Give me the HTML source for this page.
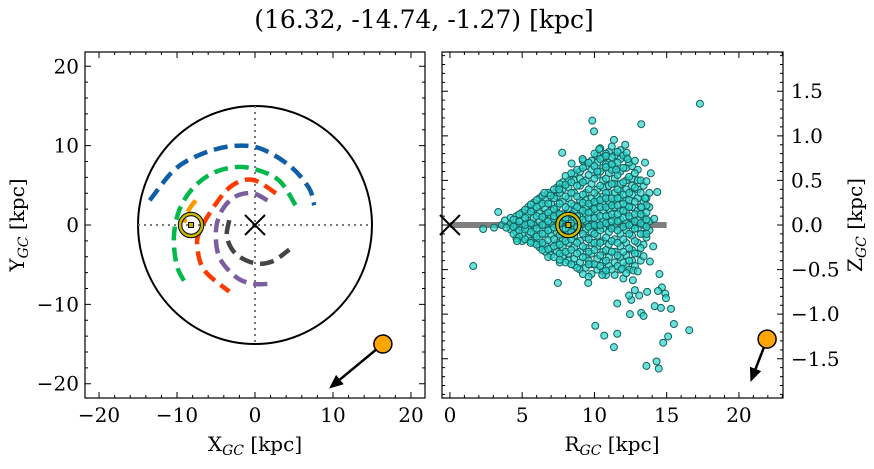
<!DOCTYPE html>
<html><head><meta charset="utf-8"><style>
body{margin:0;background:#fff}
svg text{font-family:"DejaVu Serif","Liberation Serif",serif;fill:#000}
</style></head><body>
<svg id="fig" width="874" height="464" viewBox="0 0 874 464" xmlns="http://www.w3.org/2000/svg">
<text x="424" y="28" font-size="25" text-anchor="middle">(16.32, -14.74, -1.27) [kpc]</text>
<g id="left"></g>
<g id="right"></g>
</svg>
<script>
// ---- data: left panel (X,Y in kpc) ----
const orbitBlue=[[-13.5,3.1],[-10.4,6.9],[-7.2,8.8],[-3.3,9.9],[0.5,9.7],[4.4,7.5],[6.9,4.7],[7.6,2.5]];
const orbitGreen=[[5.2,2.5],[3.1,5.6],[0.1,7.0],[-2.5,7.3],[-5.5,6.5],[-8.0,4.6],[-9.7,1.9],[-10.4,-1.5],[-10.0,-5.2],[-8.8,-7.5]];
const orbitRed=[[2.7,4.0],[-0.3,5.7],[-2.9,5.0],[-5.0,2.7],[-7.0,-0.6],[-7.4,-2.7],[-6.5,-5.7],[-3.3,-8.4]];
const orbitPurple=[[1.6,3.1],[-0.3,4.0],[-2.5,3.6],[-4.2,1.9],[-5.0,-0.6],[-4.6,-4.0],[-2.5,-6.5],[-0.3,-7.4],[2.1,-7.4]];
const orbitGray=[[-3.3,0.6],[-3.6,-1.5],[-2.5,-3.6],[-0.1,-4.8],[2.2,-4.6],[4.4,-3.1]];
const orbitOrange=[[-7.6,3.1],[-8.5,1.9],[-9.1,0.3]];
const sunXY=[-8.2,0];
const targetXY=[16.4,-15.0];
const arrowXY=[9.5,-20.6];
const diskRadius=15;
const xyTicks=[-20,-10,0,10,20];
// ---- data: right panel (R,Z in kpc) ----
const outliers=[[17.3,1.36],[9.85,1.17],[9.97,1.05],[13.24,1.13],[11.35,0.955],[12.13,0.9],[10.33,0.85],[7.77,0.81],[12.23,0.81],[10.8,0.775],[12.3,0.74],[9.18,0.74],[8.42,0.69],[13.5,0.70],[13.9,0.58],[14.35,0.37],[14.14,0.07],[13.6,-0.10],[14.07,-0.24],[13.84,-0.41],[14.5,-0.55],[14.67,-0.70],[14.4,-0.74],[14.9,-0.77],[13.65,-0.75],[14.95,-0.82],[14.17,-0.91],[14.6,-0.93],[15.3,-0.94],[13.1,-0.79],[12.55,-0.84],[12.8,-0.73],[12.4,-0.79],[11.58,-0.88],[12.46,-1.0],[13.24,-0.985],[13.4,-1.02],[15.5,-1.11],[16.56,-1.18],[15.1,-1.25],[14.76,-1.32],[10.06,-1.13],[10.68,-1.24],[11.58,-1.22],[11.35,-1.37],[13.6,-1.58],[14.3,-1.53],[14.45,-1.61],[12.66,-0.62],[7.47,-0.65],[9.57,-0.65],[1.61,-0.46],[3.34,0.146],[2.3,-0.045],[3.05,-0.03],[4.64,-0.18],[5.58,-0.2],[7.6,-0.39],[9.6,-0.44],[10.54,-0.56],[10.8,-0.51],[11.9,-0.49],[12.7,-0.51],[13.0,-0.52],[12.2,-0.54],[13.4,-0.35],[13.5,0.3],[13.25,0.2],[13.6,0.49],[6.53,0.36],[6.97,0.33],[7.56,0.40],[10.2,0.6],[10.8,0.65],[11.2,0.68],[11.5,0.62],[3.6,0.0],[3.9,-0.03],[3.8,0.05]];
const clusterR=[4.2,4.6,5.0,5.4,5.8,6.2,6.6,7.0,7.4,7.8,8.2,8.6,9.0,9.4,9.8,10.2,10.6,11.0,11.4,11.8,12.2,12.6,13.0,13.4,13.8];
const clusterZ=[
[0.02,-0.05,0.08],
[-0.08,0.0,0.1,-0.15],
[0.05,-0.1,0.14,-0.02,-0.18],
[0.12,-0.04,0.2,-0.14,0.03],
[-0.1,0.08,0.18,-0.2,0.0,0.25],
[0.04,-0.16,0.22,-0.06,0.13,-0.25,0.3],
[-0.1,0.06,0.18,-0.22,0.28,0.0,-0.3,0.12],
[0.02,-0.12,0.24,0.1,-0.26,0.35,-0.05,0.16,-0.34],
[-0.08,0.08,0.2,-0.2,0.32,0.0,-0.3,0.42,0.14],
[0.05,-0.15,0.26,-0.25,0.4,0.12,-0.05,-0.35,0.48],
[-0.1,0.18,0.3,-0.2,0.05,0.42,-0.32,0.5,-0.02,-0.4],
[0.08,-0.12,0.22,0.36,-0.25,0.5,-0.04,0.58,-0.38,0.15,-0.45],
[-0.06,0.1,0.28,-0.18,0.44,-0.3,0.6,0.02,-0.42,0.18,0.52,-0.5],
[0.04,-0.14,0.2,0.36,-0.26,0.5,-0.36,0.66,0.12,-0.05,-0.48,0.28],
[-0.08,0.14,0.3,-0.2,0.46,-0.32,0.62,0.0,0.72,-0.44,0.22,-0.55],
[0.06,-0.12,0.24,0.4,-0.24,0.56,-0.38,0.7,0.14,-0.02,-0.5,0.32,0.78],
[-0.04,0.16,0.32,-0.18,0.5,-0.3,0.64,0.04,0.76,-0.42,0.24,-0.52,0.42],
[0.1,-0.08,0.26,0.44,-0.22,0.58,-0.36,0.7,0.0,0.82,-0.46,0.36,0.18],
[-0.02,0.2,0.36,-0.16,0.52,-0.3,0.66,0.08,0.78,-0.42,0.28,-0.56,0.46],
[0.06,-0.1,0.3,0.46,-0.24,0.6,-0.36,0.74,0.16,-0.5,0.38,0.84],
[-0.06,0.14,0.28,-0.2,0.5,-0.34,0.64,0.02,0.76,-0.46,0.4,0.22],
[0.08,-0.12,0.34,0.52,-0.28,0.66,-0.4,0.2,0.0,0.44],
[-0.04,0.16,0.3,-0.2,0.5,-0.32,0.62,0.06,0.4],
[0.1,-0.1,0.26,0.44,-0.22,0.0],
[0.04,0.2,-0.06,0.36]];
const clusterR2=[4.4,4.8,5.2,5.6,6.0,6.4,6.8,7.2,7.6,8.0,8.4,8.8,9.2,9.6,10.0,10.4,10.8,11.2,11.6,12.0,12.4,12.8,13.2,13.6];
const clusterZ2=[
[-0.02,0.06,-0.1],
[0.04,-0.06,0.12,-0.13],
[-0.05,0.08,0.17,-0.16,0.0],
[0.02,-0.08,0.15,-0.18,0.23],
[-0.04,0.1,0.2,-0.13,-0.22,0.28],
[0.0,0.09,-0.1,0.24,-0.2,0.33,-0.28],
[0.04,-0.06,0.14,0.24,-0.17,0.36,-0.27,-0.36],
[-0.03,0.07,0.18,-0.16,0.3,-0.24,0.4,-0.36,0.1],
[0.02,-0.11,0.12,0.24,-0.22,0.36,-0.32,0.46,-0.42],
[-0.04,0.08,0.2,-0.18,0.32,-0.3,0.45,-0.42,0.55],
[0.02,-0.08,0.12,0.24,-0.16,0.36,-0.28,0.48,-0.44,0.58],
[-0.02,0.1,0.2,-0.2,0.32,-0.32,0.44,-0.48,0.62,0.05],
[0.06,-0.1,0.16,0.34,-0.24,0.48,-0.36,0.64,-0.55,0.25,0.72],
[-0.02,0.08,0.24,-0.16,0.4,-0.3,0.56,-0.4,0.7,0.14,-0.58],
[0.0,0.18,-0.1,0.36,-0.28,0.52,-0.44,0.66,0.08,-0.2,0.8,0.26],
[-0.06,0.1,0.28,-0.2,0.44,-0.34,0.6,-0.46,0.74,0.0,0.2,0.86],
[0.02,0.2,-0.14,0.36,-0.28,0.52,-0.4,0.68,0.1,0.8,-0.56,0.3],
[-0.04,0.12,0.3,-0.18,0.46,-0.3,0.62,-0.5,0.76,0.04,0.22,0.88],
[0.04,-0.06,0.22,0.4,-0.2,0.56,-0.34,0.7,-0.46,0.12,0.82,0.3],
[-0.02,0.16,0.34,-0.16,0.48,-0.3,0.64,-0.42,0.78,0.08,0.24,-0.6],
[0.0,0.2,-0.1,0.36,-0.26,0.54,-0.4,0.7,0.1,0.28,-0.5],
[-0.04,0.12,0.26,-0.18,0.42,-0.32,0.58,0.04,-0.46,0.72],
[0.02,0.2,-0.1,0.36,-0.26,0.5,0.12,-0.4],
[-0.02,0.14,0.3,-0.14,0.06,0.22]];
const sunRZ=[8.2,0];
const targetRZ=[21.95,-1.28];
const arrowRZ=[20.8,-1.76];
const diskLineR=[0,15];
const rTicks=[0,5,10,15,20];
const zTicks=[-1.5,-1.0,-0.5,0.0,0.5,1.0,1.5];
const zTickLabels=["\u22121.5","\u22121.0","\u22120.5","0.0","0.5","1.0","1.5"];

const NS="http://www.w3.org/2000/svg";
function mk(parent,tag,attrs){const e=document.createElementNS(NS,tag);for(const k in attrs)e.setAttribute(k,attrs[k]);parent.appendChild(e);return e;}
function lin(d0,d1,p0,p1){return v=>p0+(v-d0)*(p1-p0)/(d1-d0);}

// ---- left panel ----
const L=document.getElementById('left');
const LX0=85,LX1=425,LY0=52,LY1=398;
const lx=lin(-21.8,21.8,LX0,LX1), ly=lin(21.8,-21.8,LY0,LY1);
let e;
e=mk(L,'ellipse',{cx:lx(0),cy:ly(0),rx:lx(diskRadius)-lx(0),ry:ly(0)-ly(diskRadius),fill:'none',stroke:'#000','stroke-width':2});


e=mk(L,'line',{x1:lx(-diskRadius),x2:lx(diskRadius),y1:ly(0),y2:ly(0),stroke:'#777','stroke-width':2,'stroke-dasharray':'2 4'});


e=mk(L,'line',{x1:lx(0),x2:lx(0),y1:ly(diskRadius),y2:ly(-diskRadius),stroke:'#777','stroke-width':2,'stroke-dasharray':'2 4'});


const orbits=[[orbitBlue,'#0e5ea8','orbit-blue'],[orbitGreen,'#00b94a','orbit-green'],[orbitRed,'#ff3a00','orbit-red'],[orbitPurple,'#7b5ea0','orbit-purple'],[orbitGray,'#444444','orbit-gray'],[orbitOrange,'#ff9900','orbit-orange']];
function smooth(pts){let d='M'+pts[0][0]+' '+pts[0][1];for(let i=0;i<pts.length-1;i++){const p0=pts[Math.max(i-1,0)],p1=pts[i],p2=pts[i+1],p3=pts[Math.min(i+2,pts.length-1)];const c1=[p1[0]+(p2[0]-p0[0])/6,p1[1]+(p2[1]-p0[1])/6],c2=[p2[0]-(p3[0]-p1[0])/6,p2[1]-(p3[1]-p1[1])/6];d+=' C'+c1+' '+c2+' '+p2;}return d;}
orbits.forEach(o=>{const pts=o[0].map(p=>[lx(p[0]),ly(p[1])]);
 e=mk(L,'path',{d:smooth(pts),fill:'none',stroke:o[1],'stroke-width':4.5,'stroke-dasharray':'14 7'});
 
 });
function xmark(g,x,y,name){e=mk(g,'path',{d:`M${x-10} ${y-10}L${x+10} ${y+10}M${x-10} ${y+10}L${x+10} ${y-10}`,stroke:'#000','stroke-width':2,fill:'none'});
 
 }
function sun(g,x,y){const s=mk(g,'g',{});
 
 
 mk(s,'circle',{cx:x,cy:y,r:11,fill:'none',stroke:'#000','stroke-width':4.5});
 mk(s,'circle',{cx:x,cy:y,r:11,fill:'none',stroke:'#c8b800','stroke-width':2.5});
 mk(s,'rect',{x:x-2.5,y:y-2.5,width:5,height:5,fill:'#c8b800',stroke:'#000','stroke-width':1});}
function target(g,p,a,name){const x=p[0],y=p[1],ax=a[0],ay=a[1];const ang=Math.atan2(ay-y,ax-x);
 const bx=ax-14*Math.cos(ang),by=ay-14*Math.sin(ang);
 e=mk(g,'line',{x1:x,y1:y,x2:bx,y2:by,stroke:'#000','stroke-width':2.5});
 
 
 const px=-Math.sin(ang)*6,py=Math.cos(ang)*6;
 e=mk(g,'polygon',{points:`${ax},${ay} ${bx+px},${by+py} ${bx-px},${by-py}`,fill:'#000'});
 
 
 e=mk(g,'circle',{cx:x,cy:y,r:9,fill:'#ffa500',stroke:'#000','stroke-width':1.5});
 
 }
xmark(L,lx(0),ly(0),'galactic-center-marker');
sun(L,lx(sunXY[0]),ly(sunXY[1]));
target(L,[lx(targetXY[0]),ly(targetXY[1])],[lx(arrowXY[0]),ly(arrowXY[1])],'target-xy');

function frame(g,x0,y0,x1,y1,name){e=mk(g,'rect',{x:x0,y:y0,width:x1-x0,height:y1-y0,fill:'none',stroke:'#000','stroke-width':1.2});
 
 }
function ticks(g,x0,y0,x1,y1,fx,fy,xmaj,xmin,ymaj,ymin,xr,yr){
 let d='';
 for(let v=Math.ceil(xr[0]/xmin)*xmin;v<=xr[1];v+=xmin){const x=fx(v);const M=xmaj.some(t=>Math.abs(t-v)<1e-6);const L=M?6:3;d+=`M${x} ${y1}v${-L}M${x} ${y0}v${L}`;}
 for(let v=Math.ceil(yr[0]/ymin)*ymin;v<=yr[1];v+=ymin){const y=fy(v);const M=ymaj.some(t=>Math.abs(t-v)<1e-6);const L=M?6:3;d+=`M${x0} ${y}h${L}M${x1} ${y}h${-L}`;}
 mk(g,'path',{d:d,stroke:'#000','stroke-width':1});}
ticks(L,LX0,LY0,LX1,LY1,lx,ly,xyTicks,2,xyTicks,2,[-21.8,21.8],[-21.8,21.8]);
frame(L,LX0,LY0,LX1,LY1,'xy-axes-frame');
xyTicks.forEach(v=>{e=mk(L,'text',{x:lx(v),y:LY1+24,'font-size':20,'text-anchor':'middle'});e.textContent=(v<0?'\u2212':'')+Math.abs(v);
 
 
 e=mk(L,'text',{x:LX0-6,y:ly(v)+7,'font-size':20,'text-anchor':'end'});e.textContent=(v<0?'\u2212':'')+Math.abs(v);
 
 });
e=mk(L,'text',{x:255,y:451,'font-size':20,'text-anchor':'middle'});e.innerHTML='X<tspan font-size="14" font-style="italic" dy="4">GC</tspan><tspan dy="-4"> [kpc]</tspan>';


e=mk(L,'text',{x:0,y:0,'font-size':20,'text-anchor':'middle',transform:'translate(24 225) rotate(-90)'});e.innerHTML='Y<tspan font-size="14" font-style="italic" dy="4">GC</tspan><tspan dy="-4"> [kpc]</tspan>';



// ---- right panel ----
const R=document.getElementById('right');
const RX0=442,RX1=783,RY0=52,RY1=398;
const rx=lin(-0.55,23.05,RX0,RX1), ry=lin(1.94,-1.94,RY0,RY1);
e=mk(R,'line',{x1:rx(diskLineR[0]),x2:rx(diskLineR[1]),y1:ry(0),y2:ry(0),stroke:'#7f7f7f','stroke-width':6});


const sc=mk(R,'g',{});


function dot(r,z){e=mk(sc,'circle',{cx:rx(r),cy:ry(z),r:3.5,fill:'rgba(40,215,205,0.7)',stroke:'#155e5c','stroke-width':1});
 
 }
clusterR.forEach((r,i)=>clusterZ[i].forEach(z=>dot(r,z)));
clusterR2.forEach((r,i)=>clusterZ2[i].forEach(z=>dot(r,z)));
outliers.forEach(p=>dot(p[0],p[1]));
xmark(R,rx(0),ry(0),'galactic-center-marker-rz');
sun(R,rx(sunRZ[0]),ry(sunRZ[1]));
target(R,[rx(targetRZ[0]),ry(targetRZ[1])],[rx(arrowRZ[0]),ry(arrowRZ[1])],'target-rz');
ticks(R,RX0,RY0,RX1,RY1,rx,ry,rTicks,1,zTicks,0.1,[-0.5,23],[-1.94,1.94]);
frame(R,RX0,RY0,RX1,RY1,'rz-axes-frame');
rTicks.forEach(v=>{e=mk(R,'text',{x:rx(v),y:RY1+24,'font-size':20,'text-anchor':'middle'});e.textContent=v;
 
 });
zTicks.forEach((v,i)=>{e=mk(R,'text',{x:RX1+8,y:ry(v)+7,'font-size':20,'text-anchor':'start'});e.textContent=zTickLabels[i];
 
 });
e=mk(R,'text',{x:612,y:451,'font-size':20,'text-anchor':'middle'});e.innerHTML='R<tspan font-size="14" font-style="italic" dy="4">GC</tspan><tspan dy="-4"> [kpc]</tspan>';


e=mk(R,'text',{x:0,y:0,'font-size':20,'text-anchor':'middle',transform:'translate(862 225) rotate(-90)'});e.innerHTML='Z<tspan font-size="14" font-style="italic" dy="4">GC</tspan><tspan dy="-4"> [kpc]</tspan>';


</script>
</body></html>
